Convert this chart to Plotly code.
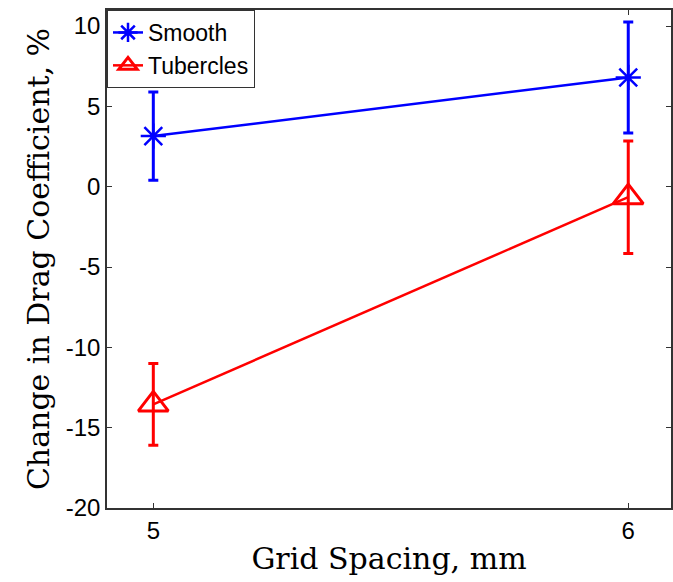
import plotly.graph_objects as go

grid_spacing = [5, 6]
smooth_vals = [3.15, 6.8]
smooth_err = [2.75, 3.45]
tub_vals = [-13.55, -0.65]
tub_err = [2.55, 3.5]
y_ticks = [-20, -15, -10, -5, 0, 5, 10]
x_ticks = [5, 6]

fig = go.Figure()
fig.add_trace(go.Scatter(
    x=grid_spacing, y=smooth_vals, name="Smooth", mode="lines+markers",
    line=dict(color="#0000ff", width=2.5),
    marker=dict(symbol="asterisk-open", size=21, line=dict(color="#0000ff", width=2.5)),
    error_y=dict(type="data", array=smooth_err, visible=True, color="#0000ff", thickness=3, width=5),
))
fig.add_trace(go.Scatter(
    x=grid_spacing, y=tub_vals, name="Tubercles", mode="lines+markers",
    line=dict(color="#ff0000", width=2.5),
    marker=dict(symbol="triangle-up-open", size=26, line=dict(color="#ff0000", width=3)),
    error_y=dict(type="data", array=tub_err, visible=True, color="#ff0000", thickness=3, width=5),
))

axis_common = dict(
    showline=True, linecolor="#333333", linewidth=1.5, mirror="ticks",
    ticks="inside", ticklen=5, tickcolor="#333333", showgrid=False, zeroline=False,
    tickfont=dict(family="Liberation Sans, Arial", size=24, color="black"),
)
fig.update_layout(
    width=673, height=582,
    margin=dict(l=107, r=0, t=10, b=74),
    plot_bgcolor="white", paper_bgcolor="white",
    showlegend=True,
    legend=dict(x=0, y=1, xanchor="left", yanchor="top",
                bordercolor="#333333", borderwidth=1, bgcolor="white",
                font=dict(family="Liberation Sans, Arial", size=23, color="black"),
                tracegroupgap=0),
    xaxis=dict(range=[4.9025, 6.09], tickvals=x_ticks, ticktext=[str(v) for v in x_ticks],
               title=dict(text="Grid Spacing, mm", standoff=5,
                          font=dict(family="DejaVu Serif", size=30, color="black")),
               **axis_common),
    yaxis=dict(range=[-20, 11.0], tickvals=y_ticks, ticktext=[str(v) for v in y_ticks],
               title=dict(text="Change in Drag Coefficient, %", standoff=7,
                          font=dict(family="DejaVu Serif", size=30, color="black")),
               **axis_common),
)
fig.write_html("out.html")
